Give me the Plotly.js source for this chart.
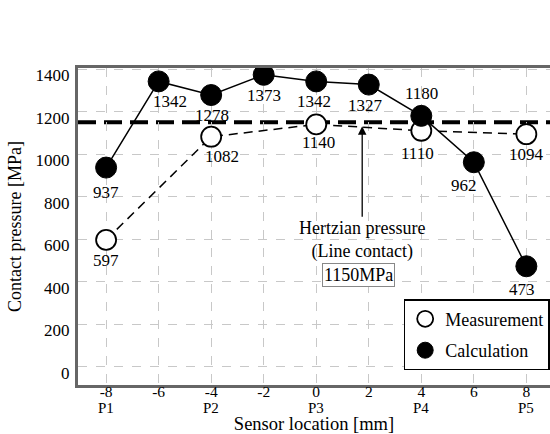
<!DOCTYPE html>
<html>
<head>
<meta charset="utf-8">
<script src="https://cdn.plot.ly/plotly-3.0.1.min.js"></script>
<style>html,body{margin:0;padding:0;background:#fff;}#chart{width:550px;height:434px;}</style>
</head>
<body>
<div id="chart"></div>
<script>
// ---- data ----
const sensorX = [-8, -6, -4, -2, 0, 2, 4, 6, 8];
const calcValues = [937, 1342, 1278, 1373, 1342, 1327, 1180, 962, 473];
const measX = [-8, -4, 0, 4, 8];
const measValues = [597, 1082, 1140, 1110, 1094];
const sensorNames = ['P1', 'P2', 'P3', 'P4', 'P5'];
const hertzian = 1150;
const xTickVals = [-8, -6, -4, -2, 0, 2, 4, 6, 8];
const xTickText = ['-8', '-6', '-4', '-2', '0', '2', '4', '6', '8'];
const yTickVals = [0, 200, 400, 600, 800, 1000, 1200, 1400];

// ---- label offsets (pixels, screen coords: [dx, dy]) ----
const calcOffsets = [[0,25],[11,20],[1,20],[0,21],[-2,20],[-3,21],[0,-22],[-10,23],[-4,23]];
const measOffsets = [[0,21],[11,20],[2,18],[-4,23],[0,20]];

const FONT = '"Liberation Serif", "DejaVu Serif", serif';

const traces = [
  {x: measX, y: measValues, mode: 'lines', line: {color: '#000', width: 1.5, dash: '9px,6px'}, showlegend: false, hoverinfo: 'skip'},
  {x: sensorX, y: calcValues, mode: 'lines', line: {color: '#000', width: 1.5}, showlegend: false, hoverinfo: 'skip'},
  {x: measX, y: measValues, mode: 'markers', name: 'Measurement', legendgroup: 'm',
   marker: {size: 20, color: '#fff', line: {color: '#000', width: 1.8}}},
  {x: sensorX, y: calcValues, mode: 'markers', name: 'Calculation', legendgroup: 'c',
   marker: {size: 21, color: '#000', line: {color: '#000', width: 1}}}
];

const annotations = [];
calcValues.forEach((v, i) => {
  annotations.push({x: sensorX[i], y: v, text: String(v), showarrow: false,
    xshift: calcOffsets[i][0], yshift: -calcOffsets[i][1],
    font: {family: FONT, size: 17, color: '#000'}});
});
measValues.forEach((v, i) => {
  annotations.push({x: measX[i], y: v, text: String(v), showarrow: false,
    xshift: measOffsets[i][0], yshift: -measOffsets[i][1],
    font: {family: FONT, size: 17, color: '#000'}});
});
sensorNames.forEach((s, i) => {
  annotations.push({x: measX[i], xref: 'x', y: 0, yref: 'paper', yanchor: 'middle', yshift: -23,
    text: s, showarrow: false, font: {family: FONT, size: 15, color: '#000'}});
});
annotations.push({x: 1.75, y: hertzian, text: 'Hertzian pressure<br>(Line contact)',
  showarrow: true, arrowhead: 2, arrowsize: 1.3, arrowwidth: 1.3, arrowcolor: '#000',
  ax: 0, ay: 118, standoff: 4,
  font: {family: FONT, size: 18, color: '#000'}});
annotations.push({x: 1.6, y: hertzian, text: hertzian + 'MPa', showarrow: false,
  yshift: -153, bordercolor: '#888', borderwidth: 1, borderpad: 1, bgcolor: '#fff',
  font: {family: FONT, size: 18, color: '#000'}});

const layout = {
  width: 550, height: 434,
  margin: {l: 78, r: 0, t: 68, b: 49},
  paper_bgcolor: '#fff', plot_bgcolor: '#fff',
  font: {family: FONT, size: 17, color: '#000'},
  xaxis: {
    range: [-9.07, 8.9], tickvals: xTickVals, ticktext: xTickText,
    showgrid: true, gridcolor: '#c8c8c8', griddash: 'dash', gridwidth: 1,
    zeroline: false, showline: true, mirror: true, linecolor: '#666', linewidth: 3,
    ticks: '', ticklabelstandoff: -10,
    tickfont: {family: FONT, size: 15.5, color: '#000'},
    title: {text: 'Sensor location [mm]', standoff: 26, font: {family: FONT, size: 18.5, color: '#000'}}
  },
  yaxis: {
    range: [-85, 1405], tickvals: yTickVals,
    showgrid: true, gridcolor: '#c8c8c8', griddash: 'dash', gridwidth: 1,
    zeroline: false, showline: true, mirror: false, linecolor: '#666', linewidth: 3,
    ticks: '', ticklabelshift: 6, ticklabelstandoff: 2,
    tickfont: {family: FONT, size: 17, color: '#000'},
    title: {text: 'Contact pressure [MPa]', standoff: 10, font: {family: FONT, size: 18, color: '#000'}}
  },
  shapes: [
    {type: 'line', xref: 'paper', x0: 0, x1: 1, yref: 'y', y0: hertzian, y1: hertzian,
     layer: 'between', line: {color: '#000', width: 4, dash: '18px,8px'}}
  ],
  legend: {
    x: 0.69, y: 0.047, xanchor: 'left', yanchor: 'bottom',
    bgcolor: '#fff', bordercolor: '#000', borderwidth: 1.5,
    font: {family: FONT, size: 18, color: '#000'},
    itemwidth: 30, tracegroupgap: 5
  },
  annotations: annotations,
  showlegend: true
};

Plotly.newPlot('chart', traces, layout, {displayModeBar: false, staticPlot: true});
</script>
</body>
</html>
